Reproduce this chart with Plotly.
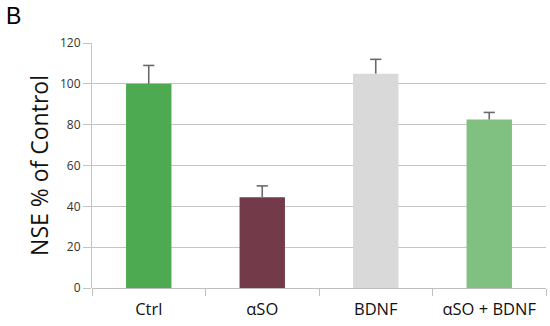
import plotly.graph_objects as go

categories = ["Ctrl", "αSO", "BDNF", "αSO + BDNF"]
values = [100, 44.5, 105, 82.5]
errors = [9, 5.5, 7, 3.5]
colors = ["#4DAA50", "#733A4A", "#D9D9D9", "#80C080"]
y_ticks = [0, 20, 40, 60, 80, 100, 120]

caps = [v + e for v, e in zip(values, errors)]

fig = go.Figure()
fig.add_trace(go.Bar(
    x=categories, y=values,
    marker=dict(color=colors, line=dict(width=0)),
    error_y=dict(type="data", symmetric=False, array=errors,
                 arrayminus=[0] * len(errors), color="#6a6a6a",
                 thickness=1.6, width=0),
    showlegend=False,
))
fig.add_trace(go.Scatter(
    x=categories, y=caps, mode="markers",
    marker=dict(symbol="line-ew", size=8,
                line=dict(width=1.6, color="#6a6a6a")),
    showlegend=False, hoverinfo="skip",
))

fig.update_layout(
    width=550, height=326,
    margin=dict(l=92, r=4, t=43, b=38),
    paper_bgcolor="white", plot_bgcolor="white",
    bargap=0.6,
    font=dict(family="Open Sans, sans-serif", color="#222"),
    annotations=[dict(text="B", x=0, y=1, xref="paper", yref="paper",
                      xanchor="left", yanchor="top", showarrow=False,
                      font=dict(size=23, color="#000",
                                family="Liberation Sans, sans-serif"),
                      xshift=-92 + 4, yshift=43 - 1)],
)
fig.update_xaxes(
    range=[-0.5, 3.5], showgrid=False,
    showline=False,
    ticks="outside", tickson="boundaries", ticklen=7, tickcolor="#bfbfbf",
    ticklabelstandoff=9,
    tickfont=dict(size=16.5, color="#111"),
)
fig.update_yaxes(
    range=[0, 120], tickvals=y_ticks, ticktext=[str(t) for t in y_ticks],
    showgrid=True, gridcolor="#c4c4c4", gridwidth=1,
    zeroline=True, zerolinecolor="#bfbfbf", zerolinewidth=1,
    showline=True, linecolor="#c4c4c4", linewidth=1,
    ticks="outside", ticklen=8, tickcolor="#c4c4c4",
    tickfont=dict(size=12, color="#333"),
    title=dict(text="NSE % of Control", font=dict(size=23, color="#111"),
               standoff=4),
)

fig.write_html("out.html")
